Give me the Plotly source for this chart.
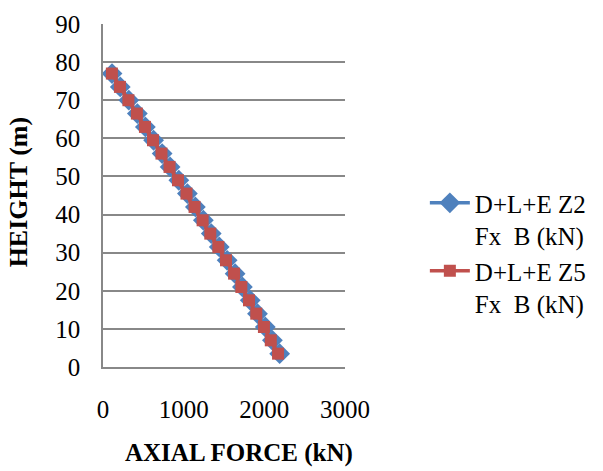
import plotly.graph_objects as go

# Storey heights (m) and axial force at base B (kN) for each load combination
height_m = [77, 73.5, 70, 66.5, 63, 59.5, 56, 52.5, 49, 45.5, 42,
            38.5, 35, 31.5, 28, 24.5, 21, 17.5, 14, 10.5, 7, 3.5]
fx_z2 = [112, 214, 320, 426, 525, 627, 733, 832, 940, 1046, 1145,
         1244, 1342, 1441, 1539, 1638, 1728, 1825, 1915, 2012, 2100, 2190]
fx_z5 = [110, 210, 315, 420, 520, 620, 725, 825, 930, 1035, 1135,
         1235, 1330, 1430, 1525, 1625, 1715, 1810, 1900, 1995, 2080, 2170]

series_names = ["D+L+E Z2<br>Fx  B (kN)", "D+L+E Z5<br>Fx  B (kN)"]
x_title = "AXIAL FORCE (kN)"
y_title = "HEIGHT (m)"

FONT = "Liberation Serif"

fig = go.Figure()
fig.add_trace(go.Scatter(
    x=fx_z2, y=height_m, mode="lines+markers", name=series_names[0],
    line=dict(color="#4F81BD", width=3.5),
    marker=dict(symbol="diamond", size=16, color="#4F81BD"),
))
fig.add_trace(go.Scatter(
    x=fx_z5, y=height_m, mode="lines+markers", name=series_names[1],
    line=dict(color="#C0504D", width=3.5),
    marker=dict(symbol="square", size=12, color="#C0504D"),
))

# Axis titles placed as annotations in paper coordinates
fig.add_annotation(
    text="<b>" + x_title + "</b>", xref="paper", yref="paper",
    x=0.56, y=-0.25, xanchor="center", yanchor="middle",
    showarrow=False, font=dict(family=FONT, size=25, color="black"),
)
fig.add_annotation(
    text="<b>" + y_title + "</b>", xref="paper", yref="paper",
    x=-0.35, y=0.51, xanchor="center", yanchor="middle", textangle=-90,
    showarrow=False, font=dict(family=FONT, size=26, color="black"),
)

fig.update_layout(
    width=603, height=471,
    margin=dict(l=103, r=244, t=24, b=104),
    paper_bgcolor="white", plot_bgcolor="white",
    font=dict(family=FONT, size=25, color="black"),
    showlegend=True,
    legend=dict(
        x=1.33, xanchor="left", xref="paper",
        y=0.545, yanchor="top",
        font=dict(family=FONT, size=25, color="black"),
        valign="top", tracegroupgap=10, itemwidth=40,
        bgcolor="rgba(0,0,0,0)",
    ),
    xaxis=dict(
        range=[0, 3000], dtick=1000, showgrid=False,
        showline=True, linecolor="#888888", linewidth=1.5,
        ticks="", tickfont=dict(family=FONT, size=25),
        ticklabelstandoff=19,
        zeroline=False,
    ),
    yaxis=dict(
        range=[0, 90], dtick=10, showgrid=True,
        gridcolor="#888888", gridwidth=1.5,
        showline=True, linecolor="#888888", linewidth=1.5,
        ticks="", tickfont=dict(family=FONT, size=25),
        ticklabelstandoff=16,
        zeroline=False,
    ),
)

fig.write_html("out.html")
